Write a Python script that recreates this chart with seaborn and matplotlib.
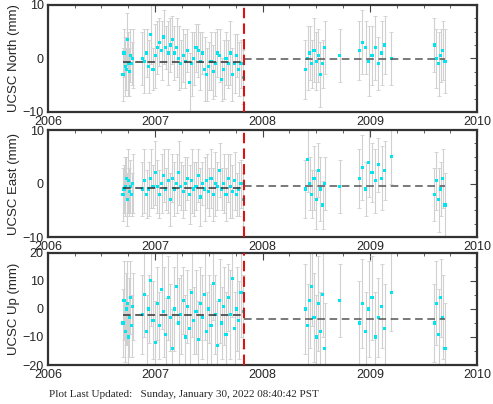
import matplotlib
matplotlib.use("Agg")
import matplotlib.pyplot as plt
import seaborn as sns
import numpy as np
from matplotlib.ticker import MultipleLocator

# epochs (decimal year)
times = [2006.70, 2006.71, 2006.72, 2006.73, 2006.74, 2006.75, 2006.76, 2006.77, 2006.78, 2006.79,
         2006.88, 2006.90, 2006.92, 2006.94, 2006.96, 2006.98, 2007.00, 2007.02, 2007.04, 2007.06,
         2007.08, 2007.10, 2007.12, 2007.14, 2007.16, 2007.18, 2007.20, 2007.22, 2007.24, 2007.26,
         2007.28, 2007.30, 2007.32, 2007.34, 2007.36, 2007.38, 2007.40, 2007.42, 2007.44, 2007.46,
         2007.48, 2007.50, 2007.52, 2007.54, 2007.56, 2007.58, 2007.60, 2007.62, 2007.64, 2007.66,
         2007.68, 2007.70, 2007.72, 2007.74, 2007.76, 2007.78, 2007.80, 2007.82,
         2008.40, 2008.42, 2008.44, 2008.46, 2008.48, 2008.50, 2008.52, 2008.54, 2008.56, 2008.58,
         2008.72,
         2008.90, 2008.93, 2008.96, 2008.99, 2009.02, 2009.05, 2009.08, 2009.11, 2009.14, 2009.20,
         2009.60, 2009.62, 2009.64, 2009.66, 2009.68, 2009.70]

north = [-3, 1, -1.5, -2, 3.5, -1, -2.5, 0.5, -1, 0,
         0, -0.5, 1, -1.5, 4.5, -2, 0.5, 2, 3, 1.5, 4, 2, 1, 2.5, 3.5, 1, 2, 0, -1, 0.5,
         -0.5, 1.5, -4.5, -1, 0, 2, 1.5, -0.5, 1, -2, -3, -1.5, -0.5, -2.5, -1, 1, 0.5, -4,
         -2, 0, -1, 1, -3, -1, 0.5, -2, -1, -3.5,
         -2, 0, 1, -1, 1.5, -0.5, 0.5, -3, -1, 2,
         0.5,
         1.5, 3, 2, -0.5, 0.5, 2, -1, 1, 2.5, 0,
         2.5, 0, -1, 0.5, 1.5, -0.5]

east = [-2, -1, -0.5, 1, -3, 0.5, -1.5, -0.5, -2, 0,
        -1, 0.5, -2, -1, 1, -0.5, 2, -0.5, -2, 0, 1.5, -1, 0.5, -3, 1, -1, 0, 2, -0.5, -1.5,
        0, 1, -2, 0.5, -1, -0.5, 1.5, -2.5, 0, -1, 0.5, -1.5, 1, -2, 0, -0.5, 2.5, -1,
        0, -2, 1, -0.5, -1.5, 0.5, -2, -1, 0, -3,
        -1, 4.5, 0, -2, 1, -3, 2.5, -1, -4, 0,
        -0.5,
        1, 3, -1, 4, 2, 0.5, 3.5, 1, 2.5, 5,
        -2, 0.5, -3, -1, 1, -4]

up = [-5, 3, -8, 0, 2, -10, -3, 4, -6, 1,
      -2, 5, -8, 0, 10, -4, -12, 2, -6, 7, -1, -9, 4, -3, -14, 0, 8, -5, -2, 3,
      -10, 1, -7, 6, -4, -1, -11, 2, -3, 5, -8, 0, -6, 9, -2, -13, 3, -5,
      1, -9, 4, -2, 11, -7, 0, -4, 6, -1,
      0, -6, 3, 8, -3, -10, 2, -8, 5, -14,
      3,
      -5, 2, -8, 0, 4, -10, -3, 1, -7, 6,
      -5, 2, -9, 4, -3, -14]

horiz_err = [5, 4.5, 5.5, 4, 5, 6, 4.5, 5, 4, 5.5,
             5, 6, 4.5, 5, 5.5, 4, 6, 5, 4.5, 5.5, 5, 4, 6, 5, 4.5, 5, 5.5, 6, 4.5, 5,
             5, 4, 5.5, 6, 5, 4.5, 5, 5.5, 4, 6, 5, 4.5, 5.5, 5, 6, 4.5, 5, 4,
             5.5, 5, 4.5, 6, 5, 5.5, 4, 5, 4.5, 5,
             5.5, 6, 5, 4.5, 6, 5.5, 5, 6, 4.5, 5,
             5,
             5.5, 6, 5, 6.5, 5.5, 6, 5, 6, 5.5, 5,
             5, 5.5, 6, 5, 5.5, 6]

up_err = [12, 14, 11, 13, 15, 12, 14, 13, 11, 12,
          14, 15, 13, 12, 16, 14, 15, 13, 12, 14, 16, 13, 15, 12, 14, 15, 13, 16, 14, 12,
          15, 13, 14, 16, 12, 15, 14, 13, 15, 16, 14, 12, 15, 13, 14, 16, 15, 13,
          14, 15, 12, 16, 14, 13, 15, 14, 16, 13,
          16, 15, 17, 14, 16, 15, 17, 14, 15, 16,
          13,
          15, 16, 14, 17, 15, 16, 14, 15, 16, 14,
          14, 15, 16, 14, 15, 16]

break_epoch = 2007.83
# mean levels before / after break
levels = {"north": (-0.7, -0.1), "east": (-0.8, -0.5), "up": (-2.0, -3.5)}

sns.set_style("white")
plt.rcParams['font.family'] = ['Liberation Sans', 'DejaVu Sans']
fig = plt.figure(figsize=(4.93, 4.04), dpi=100)
panels = [("north", north, horiz_err, "UCSC North (mm)", (-10, 10), 10, [0.723, 0.265]),
          ("east", east, horiz_err, "UCSC East (mm)", (-10, 10), 10, [0.413, 0.265]),
          ("up", up, up_err, "UCSC Up (mm)", (-20, 20), 10, [0.0965, 0.2775])]

t = np.array(times)
for key, vals, errs, label, ylim, step, (bot, h) in panels:
    ax = fig.add_axes([0.097, bot, 0.871, h])
    ax.errorbar(t, vals, yerr=errs, fmt="none", ecolor="#d0d0d0", elinewidth=0.8,
                capsize=1.5, capthick=0.6, zorder=1)
    sns.scatterplot(x=t, y=vals, ax=ax, color="#00e5ee", marker="s", s=5,
                    edgecolor="none", zorder=3)
    pre, post = levels[key]
    ax.plot([2006.70, break_epoch], [pre, pre], color="#333333", ls=(0, (5, 3)), lw=1.1, zorder=4)
    ax.plot([break_epoch, 2009.70], [post, post], color="#555555", ls=(0, (5, 3)), lw=1.1, zorder=4)
    ax.axvline(break_epoch, color="#dd1111", ls=(0, (5, 2.5)), lw=1.5, zorder=5)
    ax.set_xlim(2006, 2010)
    ax.set_ylim(*ylim)
    ax.set_xticks([2006, 2007, 2008, 2009, 2010])
    ax.set_yticks(np.arange(ylim[0], ylim[1] + 1, step))
    ax.xaxis.set_minor_locator(MultipleLocator(0.25))
    ax.yaxis.set_minor_locator(MultipleLocator(step / 4 if key != "up" else 5))
    ax.tick_params(direction="in", which="both", top=True, right=True, labelsize=9,
                   color="#444444", length=5, pad=3)
    ax.tick_params(which="minor", length=2.5)
    for s in ax.spines.values():
        s.set_linewidth(1.6)
        s.set_color("#333333")
    ax.set_ylabel(label, fontsize=9.5, labelpad=2)

fig.text(0.1, 0.018, "Plot Last Updated:   Sunday, January 30, 2022 08:40:42 PST",
         fontsize=8, family=["Liberation Serif", "DejaVu Serif"])
fig.savefig("out.png", dpi=100)
